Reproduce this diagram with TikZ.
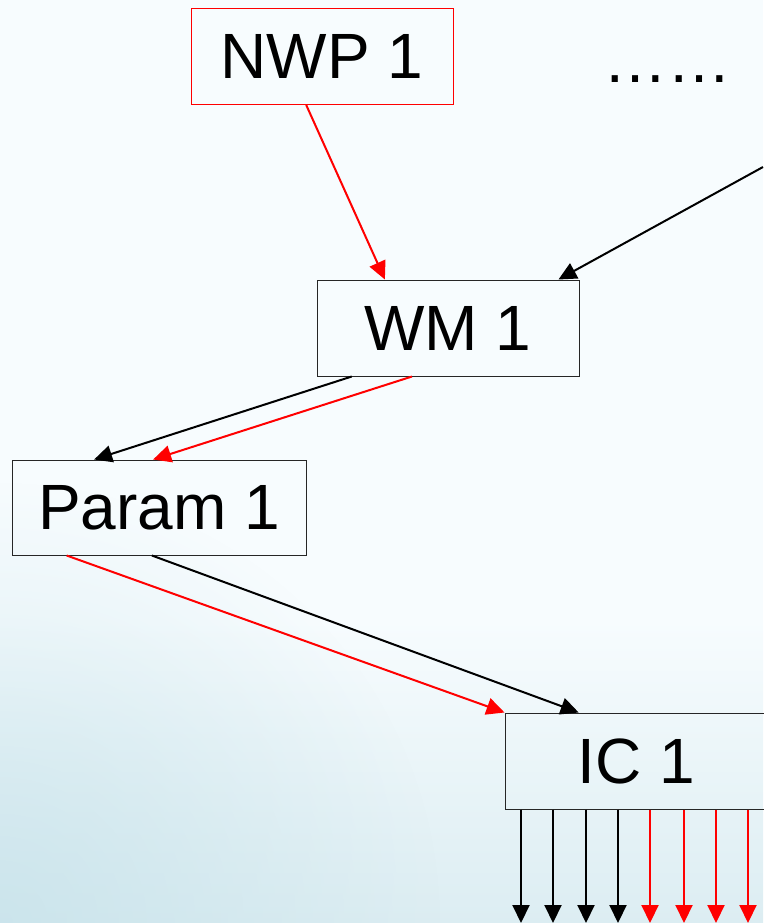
\documentclass[tikz,border=0pt]{standalone}
\usepackage{fontspec}
\setmainfont{Liberation Sans}
\usetikzlibrary{arrows.meta,calc,fadings}

\definecolor{bgtop}{HTML}{F7FCFE}
\definecolor{bgbot}{HTML}{DCEDF2}
\definecolor{bgcorner}{HTML}{C6E2EA}
\definecolor{boxline}{HTML}{262626}
\definecolor{linkred}{HTML}{FF0000}

\tikzfading[name=cornerfade, inner color=transparent!0, outer color=transparent!100]

\tikzset{
  stagebox/.style={draw=boxline, line width=1pt, minimum width=262pt, minimum height=96pt,
    inner sep=0pt, font=\fontsize{64}{70}\selectfont},
  sourcebox/.style={stagebox, draw=linkred},
  link/.style={line width=2pt, -{Triangle[length=18pt,width=17pt]}},
  blacklink/.style={link, draw=black, fill=black},
  redlink/.style={link, draw=linkred, fill=linkred},
}

\begin{document}
\begin{tikzpicture}[x=1pt, y=-1pt]
  \useasboundingbox (0,0) rectangle (763,923);

  % background: pale wash turning blue towards the bottom left
  \fill[bgtop] (0,0) rectangle (763,923);
  \fill[top color=bgtop, bottom color=bgbot] (0,620) rectangle (763,923);
  \fill[bgcorner, path fading=cornerfade, opacity=0.75] (0,923) circle (440pt);

  % stages
  \node[sourcebox] (nwp) at (322,56.5) {NWP 1};
  \node[anchor=base, font=\fontsize{64}{70}\selectfont] (more) at (667,83) {……};
  \node[stagebox] (wm) at (448,328) {WM 1};
  \node[stagebox, minimum width=294pt, minimum height=95pt] (param) at (159,507.5) {Param 1};
  \node[stagebox] (ic) at (636,761) {IC 1};

  % incoming link from outside the view
  \coordinate (offright) at (763,167);

  % links between stages
  \draw[redlink] ($(nwp.south west)!0.44!(nwp.south east)$) -- ($(wm.north west)!0.26!(wm.north east)$);
  \draw[blacklink] (offright) -- ($(wm.north west)!0.92!(wm.north east)$);
  \draw[blacklink] ($(wm.south west)!0.134!(wm.south east)$) -- ($(param.north west)!0.28!(param.north east)$);
  \draw[redlink] ($(wm.south west)!0.363!(wm.south east)$) -- ($(param.north west)!0.48!(param.north east)$);
  \draw[redlink] ($(param.south west)!0.187!(param.south east)$) -- (ic.north west);
  \draw[blacklink] ($(param.south west)!0.476!(param.south east)$) -- ($(ic.north west)!0.282!(ic.north east)$);

  % outputs of IC 1
  \foreach \i/\x/\c in {1/521/black, 2/553/black, 3/586/black, 4/618/black,
                        5/650/linkred, 6/684/linkred, 7/716/linkred, 8/748/linkred} {
    \coordinate (out\i) at (\x,923);
    \draw[link, draw=\c, fill=\c] (ic.south west -| out\i) -- (out\i);
  }
\end{tikzpicture}
\end{document}
